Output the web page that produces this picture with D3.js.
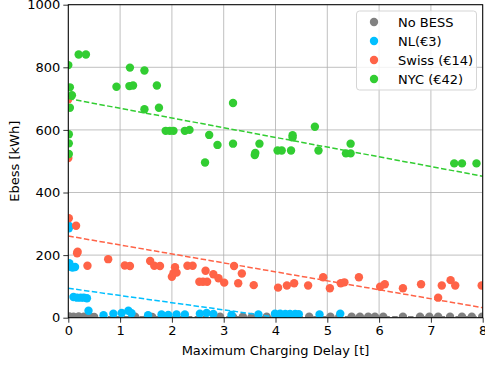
<!DOCTYPE html>
<html>
<head>
<meta charset="utf-8">
<script src="https://cdn.jsdelivr.net/npm/d3@7"></script>
<style>
  body { margin: 0; background: #fff; }
  text { font-family: "DejaVu Sans", sans-serif; }
</style>
</head>
<body>
<svg id="chart" width="485" height="366"></svg>
<script>
// series points [delay, energy]
const noBess = [
  [0.02, 4], [0.1, 3], [0.2, 4], [0.3, 3], [0.42, 4], [0.5, 2], [1.29, 3], [1.54, 3], [1.62, 2],
  [2.93, 3], [3.18, 2], [3.37, 3], [3.54, 2], [3.83, 3], [4.0, 2], [4.65, 3], [5.06, 3],
  [5.23, 2], [5.47, 3], [5.63, 3], [5.79, 3], [5.92, 3], [6.08, 3], [6.46, 3], [6.79, 3],
  [6.97, 3], [7.14, 3], [7.37, 3], [7.6, 3], [7.79, 3], [7.99, 3]
]
const nl = [
  [0.01, 286], [0.01, 294], [0.02, 174], [0.04, 163], [0.08, 160], [0.13, 162], [0.1, 66],
  [0.17, 64], [0.24, 64], [0.3, 64], [0.36, 62], [0.39, 22], [0.68, 8], [0.87, 13],
  [1.03, 15], [1.16, 22], [1.22, 14], [1.54, 8], [1.8, 10], [1.93, 9], [2.09, 10],
  [2.25, 10], [2.54, 13], [2.67, 15], [2.8, 12], [3.15, 9], [3.67, 10], [3.99, 13],
  [4.09, 13], [4.19, 12], [4.28, 12], [4.38, 12], [4.45, 11], [4.85, 10], [5.25, 13]
]
const swiss = [
  [0.0, 510], [0.0, 698], [0.01, 318], [0.15, 294], [0.17, 206], [0.18, 211], [0.37, 166],
  [0.77, 187], [1.09, 167], [1.19, 165], [1.58, 181], [1.66, 166], [1.77, 165], [2.0, 131],
  [2.03, 142], [2.06, 161], [2.09, 144], [2.3, 166], [2.4, 166], [2.53, 115], [2.6, 115],
  [2.68, 115], [2.65, 150], [2.8, 139], [2.9, 126], [3.01, 112], [3.2, 165], [3.35, 141],
  [3.28, 110], [3.58, 104], [4.05, 96], [4.22, 103], [4.36, 110], [4.63, 103], [4.92, 129],
  [5.05, 94], [5.26, 110], [5.33, 113], [5.61, 129], [6.02, 99], [6.11, 107], [6.46, 94],
  [6.81, 107], [7.14, 64], [7.21, 103], [7.38, 120], [7.47, 103], [7.98, 103]
]
const nyc = [
  [0.0, 807], [0.2, 841], [0.34, 841], [0.03, 736], [0.07, 711], [0.03, 671], [0.01, 586],
  [0.01, 557], [0.01, 523], [0.93, 738], [1.19, 799], [1.18, 740], [1.25, 742], [1.47, 790],
  [1.47, 666], [1.71, 742], [1.75, 671], [1.88, 597], [1.96, 597], [2.03, 597], [2.25, 597],
  [2.34, 600], [2.64, 496], [2.72, 584], [2.88, 552], [3.18, 686], [3.18, 556], [3.6, 520],
  [3.61, 526], [3.69, 556], [4.04, 534], [4.12, 534], [4.3, 534], [4.33, 583], [4.33, 576],
  [4.76, 610], [4.83, 534], [5.36, 525], [5.45, 525], [5.45, 556], [7.45, 493], [7.6, 493],
  [7.88, 493]
]

// dashed trend lines, value at delay 0 and delay 8
const trendX = [0, 8]
const trendNoBess = [3, 3]
const trendNl = [94, -90]
const trendSwiss = [261, 32]
const trendNyc = [700, 452]

const xTicks = [0, 1, 2, 3, 4, 5, 6, 7, 8]
const yTicks = [0, 200, 400, 600, 800, 1000]

const series = [
  { name: 'No BESS', color: '#808080', points: noBess, trend: trendNoBess },
  { name: 'NL(€3)', color: '#00bfff', points: nl, trend: trendNl },
  { name: 'Swiss (€14)', color: '#ff6347', points: swiss, trend: trendSwiss },
  { name: 'NYC (€42)', color: '#32cd32', points: nyc, trend: trendNyc }
]

const svg = d3.select('#chart')
const plotLeft = 68.3, plotRight = 482.7, plotTop = 4.7, plotBottom = 317.7

const x = d3.scaleLinear().domain([0, 8]).range([plotLeft, plotRight])
const y = d3.scaleLinear().domain([0, 1000]).range([plotBottom, plotTop])

svg.append('defs').append('clipPath').attr('id', 'plot-clip')
    .append('rect')
    .attr('x', plotLeft).attr('y', plotTop)
    .attr('width', plotRight - plotLeft).attr('height', plotBottom - plotTop)

// grid
svg.append('g')
    .selectAll('line')
    .data(xTicks)
    .enter().append('line')
    .attr('x1', d => x(d)).attr('x2', d => x(d))
    .attr('y1', plotTop).attr('y2', plotBottom)
    .attr('stroke', '#b0b0b0').attr('stroke-width', 0.8)

svg.append('g')
    .selectAll('line')
    .data(yTicks)
    .enter().append('line')
    .attr('x1', plotLeft).attr('x2', plotRight)
    .attr('y1', d => y(d)).attr('y2', d => y(d))
    .attr('stroke', '#b0b0b0').attr('stroke-width', 0.8)

const plot = svg.append('g').attr('clip-path', 'url(#plot-clip)')

const line = d3.line()
    .x(d => x(d[0]))
    .y(d => y(d[1]))

series.forEach(s => {
    plot.append('g')
        .selectAll('circle')
        .data(s.points)
        .enter().append('circle')
        .attr('cx', d => x(d[0]))
        .attr('cy', d => y(d[1]))
        .attr('r', 4.2)
        .attr('fill', s.color)

    plot.append('path')
        .datum(trendX.map((t, i) => [t, s.trend[i]]))
        .attr('d', line)
        .attr('fill', 'none')
        .attr('stroke', s.color)
        .attr('stroke-width', 1.5)
        .attr('stroke-dasharray', '5.5,2.4')
})

// axes
const xAxis = svg.append('g')
    .attr('transform', `translate(0,${plotBottom})`)
    .call(d3.axisBottom(x).tickValues(xTicks).tickFormat(d3.format('d')).tickSize(5).tickPadding(3))
const yAxis = svg.append('g')
    .attr('transform', `translate(${plotLeft},0)`)
    .call(d3.axisLeft(y).tickValues(yTicks).tickFormat(d3.format('d')).tickSize(5).tickPadding(3))

;[xAxis, yAxis].forEach(a => {
    a.select('.domain').remove()
    a.selectAll('text').attr('font-size', 13).attr('fill', '#000')
    a.selectAll('line').attr('stroke', '#000').attr('stroke-width', 0.8)
})

svg.append('rect')
    .attr('x', plotLeft).attr('y', plotTop)
    .attr('width', plotRight - plotLeft).attr('height', plotBottom - plotTop)
    .attr('fill', 'none').attr('stroke', '#000').attr('stroke-width', 1)

// labels
svg.append('text')
    .attr('x', (plotLeft + plotRight) / 2).attr('y', 355)
    .attr('text-anchor', 'middle').attr('font-size', 13)
    .text('Maximum Charging Delay [t]')

svg.append('text')
    .attr('transform', `translate(19,${(plotTop + plotBottom) / 2}) rotate(-90)`)
    .attr('text-anchor', 'middle').attr('font-size', 13)
    .text('Ebess [kWh]')

// legend
const legend = svg.append('g')
legend.append('rect')
    .attr('x', 356.5).attr('y', 11).attr('width', 120).attr('height', 79).attr('rx', 3)
    .attr('fill', '#fff').attr('fill-opacity', 0.8)
    .attr('stroke', '#d5d5d5').attr('stroke-width', 1)

const item = legend.selectAll('g.item')
    .data(series)
    .enter().append('g')
    .attr('class', 'item')
    .attr('transform', (d, i) => `translate(0,${22 + i * 19})`)
item.append('circle').attr('cx', 374).attr('cy', 0).attr('r', 4.2).attr('fill', d => d.color)
item.append('text').attr('x', 398).attr('y', 4.5).attr('font-size', 13).text(d => d.name)
</script>
</body>
</html>
